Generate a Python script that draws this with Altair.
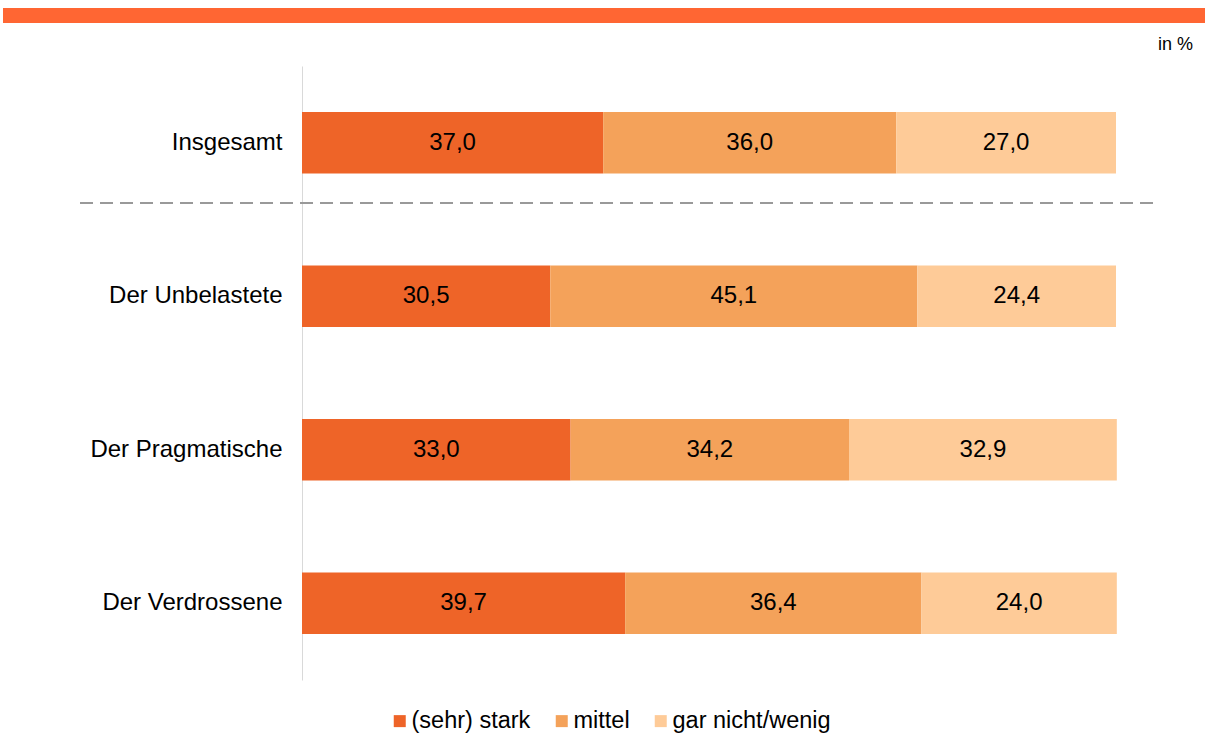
import altair as alt
import pandas as pd

categories = ["Insgesamt", "Der Unbelastete", "Der Pragmatische", "Der Verdrossene"]
series_names = ["(sehr) stark", "mittel", "gar nicht/wenig"]
stark = [37.0, 30.5, 33.0, 39.7]
mittel = [36.0, 45.1, 34.2, 36.4]
wenig = [27.0, 24.4, 32.9, 24.0]
colors = ["#EE6428", "#F4A25A", "#FECB98"]

rows = []
for i, cat in enumerate(categories):
    for j, (name, vals) in enumerate(zip(series_names, [stark, mittel, wenig])):
        v = vals[i]
        rows.append({"category": cat, "series": name, "order": j, "value": v,
                     "label": f"{v:.1f}".replace(".", ",")})
df = pd.DataFrame(rows)
one = pd.DataFrame({"k": [0]})

FONT = "Liberation Sans"
FS = 24

y_enc = alt.Y("category:N", sort=categories,
              scale=alt.Scale(paddingInner=0.6, paddingOuter=0.3),
              axis=alt.Axis(title=None, ticks=False, domainColor="#d9d9d9", domainWidth=1,
                            labelFontSize=FS, labelPadding=20, labelColor="black",
                            labelFont=FONT, labelLimit=400, grid=False))

bars = alt.Chart(df).mark_bar(strokeWidth=0).encode(
    x=alt.X("value:Q", stack="zero", scale=alt.Scale(domain=[0, 100]), axis=None),
    y=y_enc,
    color=alt.Color("series:N", sort=series_names,
                    scale=alt.Scale(domain=series_names, range=colors),
                    legend=alt.Legend(title=None, orient="none", direction="horizontal",
                                      legendX=86, legendY=643, symbolType="square",
                                      symbolSize=144, symbolStrokeWidth=0,
                                      labelFontSize=23.5, labelFont=FONT, labelColor="black",
                                      labelOffset=0, columnPadding=19, labelLimit=400)),
    order=alt.Order("order:Q"),
)

texts = alt.Chart(df).transform_window(
    cum="sum(value)", groupby=["category"], sort=[alt.SortField("order")], frame=[None, 0]
).transform_calculate(
    mid="datum.cum - datum.value / 2"
).mark_text(fontSize=FS, font=FONT, color="black", baseline="middle").encode(
    x=alt.X("mid:Q", scale=alt.Scale(domain=[0, 100]), axis=None),
    y=alt.Y("category:N", sort=categories),
    text="label:N",
)

dash = alt.Chart(one).mark_rule(color="#999999", strokeWidth=2, strokeDash=[13, 7]).encode(
    x=alt.value(-222), x2=alt.value(853), y=alt.value(137)
)

banner = alt.Chart(one).mark_rect(color="#FF6633").encode(
    x=alt.value(-299), x2=alt.value(903), y=alt.value(-58), y2=alt.value(-43)
)

unit = alt.Chart(one).mark_text(text="in %", fontSize=18, font=FONT, color="black",
                                align="right", baseline="middle").encode(
    x=alt.value(891), y=alt.value(-21)
)

chart = alt.layer(bars, texts, dash, banner, unit).properties(
    width=814, height=614,
    background="white",
    autosize=alt.AutoSizeParams(type="none"),
    padding={"left": 302, "top": 66, "right": 89, "bottom": 53},
).configure_view(strokeWidth=0, stroke=None)

chart.save("out.html", embed_options={"renderer": "svg", "actions": False})
